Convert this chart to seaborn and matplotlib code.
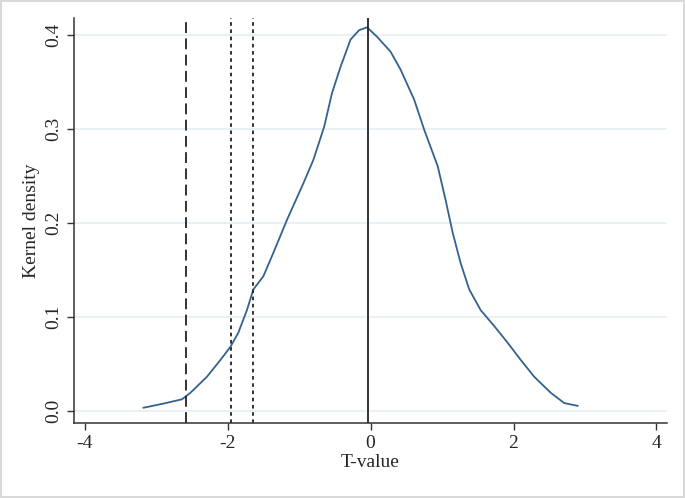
import numpy as np
import pandas as pd
import matplotlib
matplotlib.use("Agg")
import matplotlib.pyplot as plt
import seaborn as sns

# curva de densidade
t_valor = [-3.18, -2.90, -2.64, -2.52, -2.29, -2.10, -1.96, -1.85, -1.73, -1.64,
           -1.50, -1.36, -1.17, -0.94, -0.80, -0.65, -0.54, -0.42, -0.28, -0.16,
           -0.05, 0.09, 0.28, 0.42, 0.61, 0.75, 0.94, 1.05, 1.15, 1.26,
           1.38, 1.54, 1.73, 1.92, 2.10, 2.29, 2.52, 2.71, 2.90]
densidade = [0.003, 0.0074, 0.012, 0.019, 0.036, 0.054, 0.068, 0.083, 0.107, 0.129,
             0.143, 0.168, 0.203, 0.242, 0.267, 0.302, 0.338, 0.366, 0.395, 0.405,
             0.408, 0.398, 0.382, 0.363, 0.331, 0.299, 0.260, 0.224, 0.189, 0.157,
             0.129, 0.107, 0.090, 0.072, 0.054, 0.036, 0.019, 0.008, 0.005]

# linhas verticais: valores criticos e media
linhas_tracejadas = [-2.58]
linhas_pontilhadas = [-1.96, -1.645]
linha_media = -0.04

x_ticks = [-4, -2, 0, 2, 4]
y_ticks = [0.0, 0.1, 0.2, 0.3, 0.4]

sns.set_style("white")
plt.rcParams['font.family'] = ['Liberation Serif', 'DejaVu Serif']

df = pd.DataFrame({'T-value': t_valor, 'Kernel density': densidade})

fig = plt.figure(figsize=(6.85, 4.98), dpi=100)
fig.patch.set_edgecolor('#d9d9d9')
fig.patch.set_linewidth(1.5)
ax = fig.add_axes([0.108, 0.151, 0.866, 0.813])

for y in y_ticks:
    ax.axhline(y, color='#e6eff2', linewidth=1.2, zorder=0)

sns.lineplot(data=df, x='T-value', y='Kernel density', ax=ax,
             color='#33628f', linewidth=1.3, sort=False)

for x in linhas_tracejadas:
    ax.axvline(x, color='#222222', linewidth=1.3, linestyle=(0, (6, 3)))
for x in linhas_pontilhadas:
    ax.axvline(x, color='#222222', linewidth=1.3, linestyle=(0, (2, 2)))
ax.axvline(linha_media, color='#222222', linewidth=1.3)

ax.set_xlim(-4.15, 4.15)
ax.set_ylim(-0.013, 0.418)
ax.set_xticks(x_ticks)
ax.set_xticklabels([str(v) for v in x_ticks])
ax.set_yticks(y_ticks)
ax.set_yticklabels([f'{v:.1f}' for v in y_ticks], rotation=90, va='center')

ax.tick_params(axis='both', direction='out', length=5, width=1, labelsize=14,
               color='#333333', bottom=True, left=True)
ax.set_xlabel('T-value', fontsize=14, labelpad=2)
ax.set_ylabel('Kernel density', fontsize=14, labelpad=4)

sns.despine(ax=ax, top=True, right=True)
for s in ['left', 'bottom']:
    ax.spines[s].set_color('#333333')
    ax.spines[s].set_linewidth(1.1)

fig.savefig('out.png', dpi=100)
